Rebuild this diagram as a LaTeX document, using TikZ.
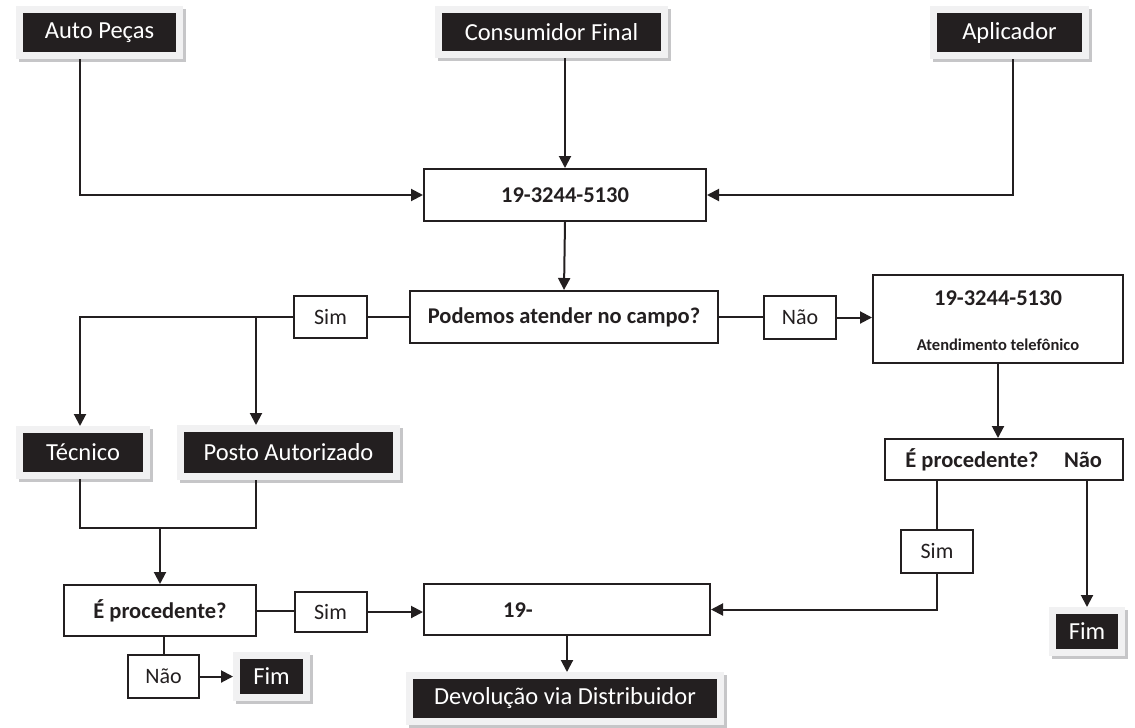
\documentclass[tikz,border=0pt]{standalone}
\usepackage{fontspec}
\setmainfont{Carlito}
\usetikzlibrary{arrows.meta,shadows,calc}
\definecolor{boxblack}{HTML}{231F20}
\definecolor{framegray}{HTML}{F1F1F2}
\definecolor{shadowgray}{HTML}{C6C6C8}
\definecolor{ink}{HTML}{231F20}
\tikzset{
  blackbox/.style={fill=boxblack, text=white, draw=framegray, line width=7pt,
    inner sep=0pt, outer sep=3.5pt,
    font=\fontsize{24.5}{28}\selectfont,
    general shadow={fill=shadowgray, draw=shadowgray, line width=7pt,
      shadow xshift=2.5pt, shadow yshift=-2.5pt}},
  whitebox/.style={draw=ink, fill=white, line width=2pt, inner sep=0pt,
    outer sep=1pt, text=ink, font=\fontsize{22.5}{26}\selectfont\bfseries},
  tagbox/.style={draw=ink, fill=white, line width=2pt, inner sep=0pt,
    outer sep=1pt, text=ink, font=\fontsize{22}{25}\selectfont},
  plain/.style={text=ink, inner sep=0pt},
  conn/.style={draw=ink, line width=2pt},
  arr/.style={conn, -{Triangle[length=12pt,width=12pt]}}
}
\begin{document}
\begin{tikzpicture}[x=1pt,y=-1pt]
\path[use as bounding box, fill=white] (0,0) rectangle (1135,728);

% black labelled boxes
\node[blackbox, minimum width=160, minimum height=46] (ap)  at (99.5,32.5) {Auto Peças};
\node[blackbox, minimum width=226, minimum height=45] (cf)  at (551.5,32) {Consumidor Final};
\node[blackbox, minimum width=152, minimum height=46] (apl) at (1009.5,32.5) {Aplicador};
\node[blackbox, minimum width=127, minimum height=46] (tec) at (83,452.5) {Técnico};
\node[blackbox, minimum width=216, minimum height=48] (posto) at (288.5,452.5) {Posto Autorizado};
\node[blackbox, minimum width=70, minimum height=42] (fimL) at (271.5,676.5) {Fim};
\node[blackbox, minimum width=69, minimum height=42] (fimR) at (1087,631.5) {Fim};
\node[blackbox, minimum width=311, minimum height=46] (dev) at (565,698.5) {Devolução via Distribuidor};

% white boxes
\node[whitebox, minimum width=282, minimum height=52] (b1) at (565,195) {19-3244-5130};
\node[whitebox, minimum width=308, minimum height=52] (b2) at (564,317) {Podemos atender no campo?};
\node[tagbox, minimum width=73, minimum height=42] (simA) at (330.5,317) {Sim};
\node[tagbox, minimum width=72, minimum height=43] (naoA) at (800,317.5) {Não};
\node[whitebox, minimum width=250, minimum height=88] (b3) at (998,319) {};
\node[plain, font=\fontsize{22.5}{26}\selectfont\bfseries] (b3a) at (998,298) {19-3244-5130};
\node[plain, font=\fontsize{16.5}{20}\selectfont\bfseries] (b3b) at (998,345) {Atendimento telefônico};
\node[whitebox, minimum width=238, minimum height=41] (b4) at (1004,459.5) {};
\node[plain, font=\fontsize{22.5}{26}\selectfont\bfseries] (b4a) at (972,460) {É procedente?};
\node[plain, font=\fontsize{22.5}{26}\selectfont\bfseries] (b4b) at (1083,460) {Não};
\node[tagbox, minimum width=72, minimum height=43] (simB) at (937,551.5) {Sim};
\node[whitebox, minimum width=286, minimum height=51] (b5) at (567,609.5) {};
\node[plain, font=\fontsize{22.5}{26}\selectfont\bfseries] (b5a) at (518,610) {19-};
\node[whitebox, minimum width=192, minimum height=51] (b6) at (160,610.5) {É procedente?};
\node[tagbox, minimum width=72, minimum height=40] (simC) at (330.5,612) {Sim};
\node[tagbox, minimum width=71, minimum height=43] (naoB) at (163.5,676.5) {Não};

% junction coordinates
\coordinate (jA) at (256,317);
\coordinate (jL) at (80,528);
\coordinate (jR) at (256,528);

% connectors: top
\draw[arr] ([xshift=-19.5pt]ap.south) |- (b1.west);
\draw[arr] (b1.north |- cf.south) -- (b1.north);
\draw[arr] ([xshift=3.5pt]apl.south) |- (b1.east);
\draw[arr] (b1.south) -- (b2.north);

% left branch
\draw[conn] (b2.west) -- (simA.east);
\draw[arr] (simA.west) -| ([xshift=-3pt]tec.north);
\draw[arr] (jA) -- (jA |- posto.north);
\draw[conn] ([xshift=-3pt]tec.south) -- (jL) -- (jR) -- (jR |- posto.south);
\draw[arr] (b6.north |- jL) -- (b6.north);
\draw[conn] (b6.east) -- (b6.east -| simC.west);
\draw[arr] (simC.east) -- (simC.east -| b5.west);
\draw[conn] (naoB.north |- b6.south) -- (naoB.north);
\draw[arr] (naoB.east) -- (naoB.east -| fimL.west);

% right branch
\draw[conn] (b2.east) -- (b2.east -| naoA.west);
\draw[arr] (naoA.east) -- (naoA.east -| b3.west);
\draw[arr] (b3.south) -- (b3.south |- b4.north);
\draw[conn] (simB.north |- b4.south) -- (simB.north);
\draw[arr] (simB.south) |- (b5.east);
\draw[arr] (b4.south -| fimR.north) -- (fimR.north);

% bottom
\draw[arr] (b5.south) -- (b5.south |- dev.north);
\end{tikzpicture}
\end{document}
